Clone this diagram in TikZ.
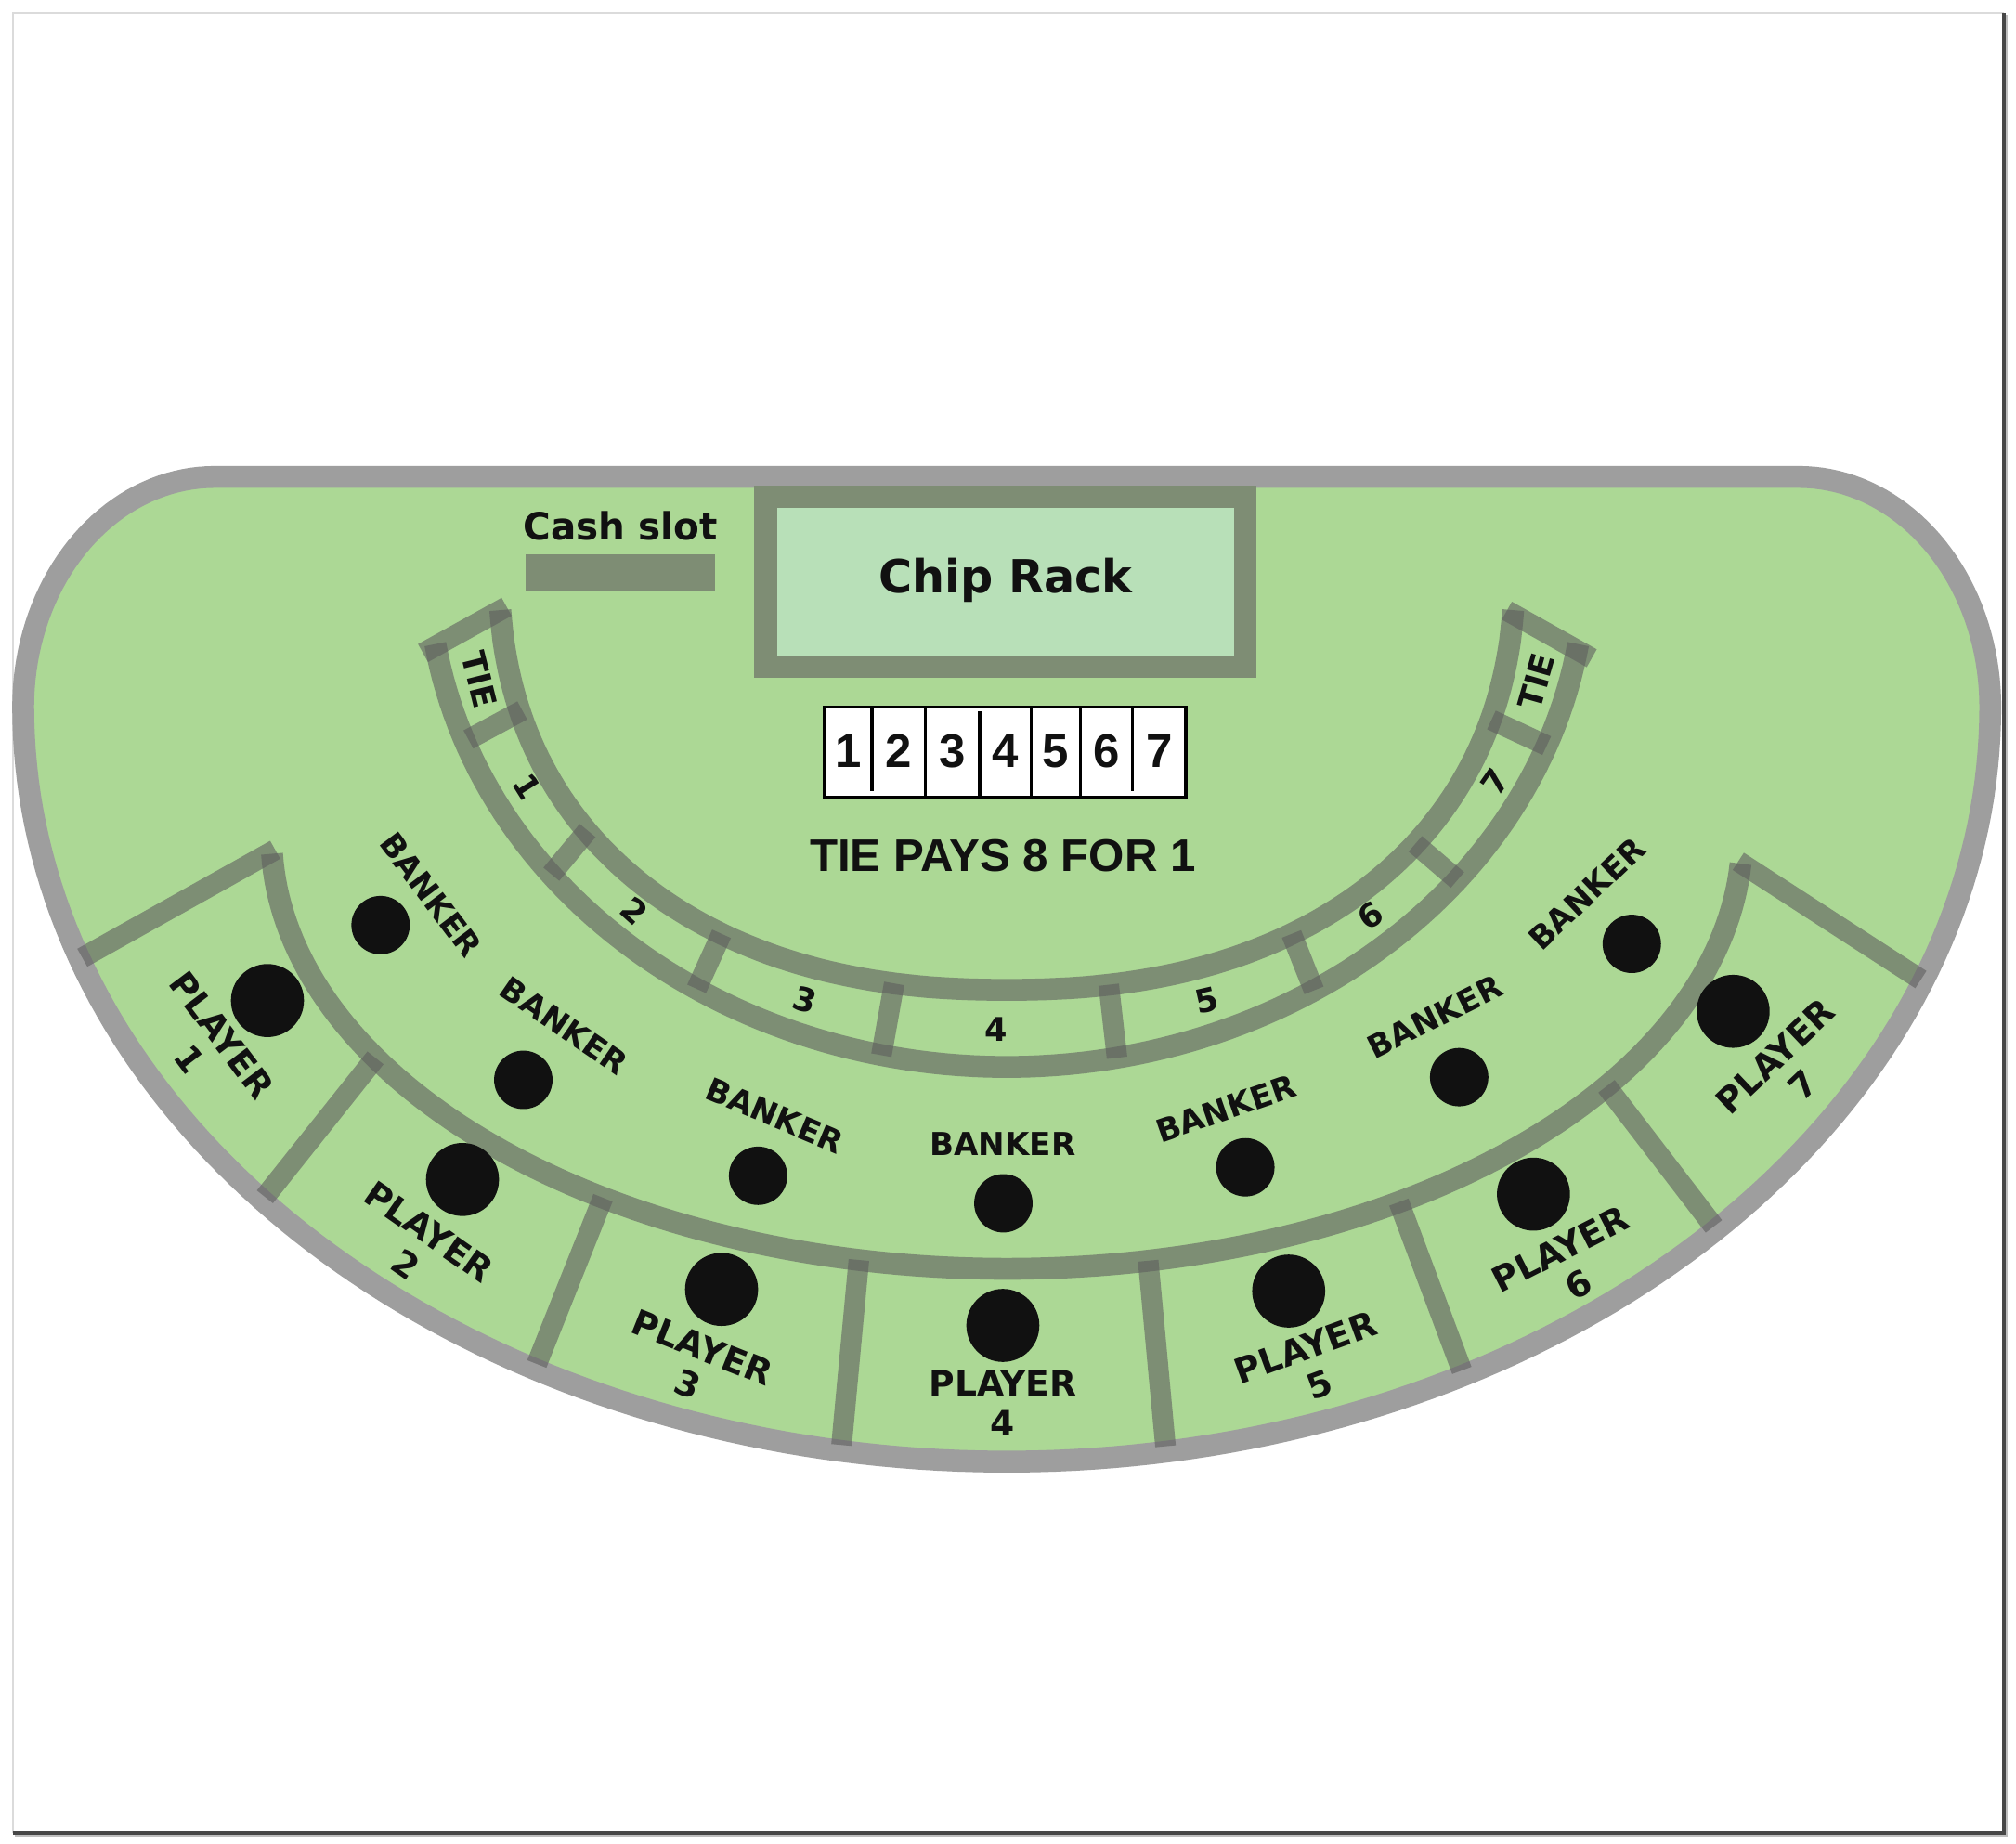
\documentclass[tikz,border=0pt]{standalone}
\usepackage{fontspec}
\newfontfamily\dvs{DejaVu Sans}
\newfontfamily\lib{Liberation Sans}
\definecolor{felt}{HTML}{ACD895}
\definecolor{rim}{HTML}{9E9E9E}
\definecolor{bandc}{HTML}{5E5E5E}
\definecolor{rackbd}{HTML}{7E8D74}
\definecolor{rackin}{HTML}{B8E0B8}
\definecolor{ink}{HTML}{111111}
\begin{document}
\begin{tikzpicture}[x=0.013846cm,y=-0.013846cm,
  strip/.style={draw=bandc,draw opacity=0.6,line width=6.7pt},
  sepline/.style={draw=bandc,draw opacity=0.6,line width=6.3pt},
  bklbl/.style={font=\dvs\bfseries\fontsize{9.7}{11.6}\selectfont,text=ink,inner sep=0pt},
  pllbl/.style={font=\dvs\bfseries\fontsize{10.7}{12.2}\selectfont,text=ink,inner sep=0pt,align=center},
  tielbl/.style={font=\dvs\bfseries\fontsize{10}{12}\selectfont,text=ink,inner sep=0pt},
  boxnum/.style={font=\lib\bfseries\fontsize{14.5}{17}\selectfont,text=ink,anchor=base,inner sep=0pt},
]
\useasboundingbox (0,0) rectangle (1568,1434);
\fill[white] (0,0) rectangle (1568,1434);
% frame
\draw[black!14,line width=0.7pt] (1558.5,10) -- (10,10) -- (10,1425.5);
\draw[black!25,line width=1.2pt] (11.5,1427.3) -- (1560.3,1427.3) -- (1560.3,11.5);
\draw[black!72,line width=1.1pt] (10,1425.5) -- (1558.5,1425.5) -- (1558.5,10);

% table
\path[fill=felt,draw=rim,line width=6.7pt,line join=round]
  (18,550) -- plot[domain=180:90,samples=40,variable=\t] ({167+149*cos(\t)},{550-179*sin(\t)})
  -- (1399,371) -- plot[domain=90:0,samples=40,variable=\t] ({1399+149*cos(\t)},{550-179*sin(\t)})
  -- plot[domain=0:180,samples=160,variable=\t] ({783+765*cos(\t)},{550+587*sin(\t)}) -- cycle;

% chip rack
\draw[fill=rackin,draw=rackbd,line width=6.9pt] (595.5,386.5) rectangle (968.5,518.5);
\node[font=\dvs\bfseries\fontsize{14}{16}\selectfont,text=ink,anchor=base,inner sep=0pt] (chiprack) at (782,461) {Chip Rack};

% cash slot
\fill[rackbd] (409,431) rectangle (556,459);
\node[font=\dvs\bfseries\fontsize{11.5}{13}\selectfont,text=ink,anchor=base,inner sep=0pt] (cashslot) at (482.5,420.3) {Cash slot};

% number box
\draw[fill=white,line width=0.9pt] (641.3,550) rectangle (922.3,620);
\draw[line width=0.9pt] (678.2,550) -- (678.2,615) (719.8,550) -- (719.8,620)
  (762,553.5) -- (762,620) (802.2,550) -- (802.2,620) (840.2,550) -- (840.2,620)
  (880.6,550) -- (880.6,615);
\foreach \x [count=\i] in {659.8,699,740.9,782.1,821.2,860.4,901.5}
  \node[boxnum] (box\i) at (\x,597) {\i};
\node[font=\lib\bfseries\fontsize{14}{16}\selectfont,text=ink,anchor=base,inner sep=0pt] (tiepays) at (780,677.7) {TIE PAYS 8 FOR 1};

% tie band
\draw[strip] plot[domain=9:171,samples=120,variable=\t] ({783-450*cos(\t)},{440+390*sin(\t)});
\draw[strip] plot[domain=4.5:175.5,samples=140,variable=\t]
  ({783-395*cos(\t)*(abs(cos(\t))+0.0001)^(-0.111)},{440+330*(sin(\t))^(0.889)});
\draw[sepline] (329,508) -- (394,472);
\draw[sepline] (1172,475) -- (1238,512);
\draw[sepline] (364.3,575.2) -- (406.2,552.6);
\draw[sepline] (428.8,680) -- (457,646);
\draw[sepline] (541.8,769.2) -- (561.2,726.4);
\draw[sepline] (685.5,820.8) -- (695.5,765);
\draw[sepline] (868.8,822.8) -- (862.3,766);
\draw[sepline] (1022,770.4) -- (1004.5,726.5);
\draw[sepline] (1133.6,684.5) -- (1100.8,656.4);
\draw[sepline] (1203,580) -- (1160,560);

% banker / player divider
\draw[strip] plot[domain=2.4:176.3,samples=150,variable=\t] ({783-572*cos(\t)},{650+337*sin(\t)});
\draw[sepline] (214,661) -- (64,745);
\draw[sepline] (1352,670) -- (1494,762);
\draw[sepline] (292,822.9) -- (206,931);
\draw[sepline] (469,931.7) -- (417.5,1061);
\draw[sepline] (668,980.1) -- (654.5,1124);
\draw[sepline] (893,980.7) -- (906.5,1125);
\draw[sepline] (1088,935.1) -- (1137,1066);
\draw[sepline] (1249.5,845) -- (1333,954);

% betting spots
\foreach \x/\y in {296/719.6,407/840,589.6/914.6,780.4/936,968.6/908,1134.9/837.9,1269.2/734.2}
  \fill[ink] (\x,\y) circle[radius=0.3143cm];
\foreach \x/\y in {208/778.3,359.7/917.5,561.2/1003,780/1031,1002.3/1004.3,1192.7/928.9,1348/786.7}
  \fill[ink] (\x,\y) circle[radius=0.393cm];

% labels
\foreach \x/\y/\a [count=\i] in {335.3/696/-53,438.8/798.2/-34.5,602.6/867.7/-22.8,780/889.5/0,953.7/862.2/19,1116/791/26.6,1234/695/43.4}
  \node[bklbl,rotate=\a] (banker\i) at (\x,\y) {BANKER};
\foreach \x/\y/\a [count=\i] in {160.1/814.4/-53,324.8/970.8/-35,540.7/1062.7/-21.8,780/1091.5/0,1020.8/1062.8/20.1,1220.5/985.5/27,1391.5/833/43.5}
  \node[pllbl,rotate=\a] (player\i) at (\x,\y) {PLAYER\\\i};
\foreach \x/\y/\a/\s [count=\i] in {373.2/528.7/-76/TIE,410/612/-58/1,493.4/708.4/-42/2,626/778/-17/3,774.5/800.5/0/4,938.5/778/13/5,1066/712/33/6,1163/608/55/7,1195/530/74/TIE}
  \node[tielbl,rotate=\a] (tie\i) at (\x,\y) {\s};
\end{tikzpicture}
\end{document}
